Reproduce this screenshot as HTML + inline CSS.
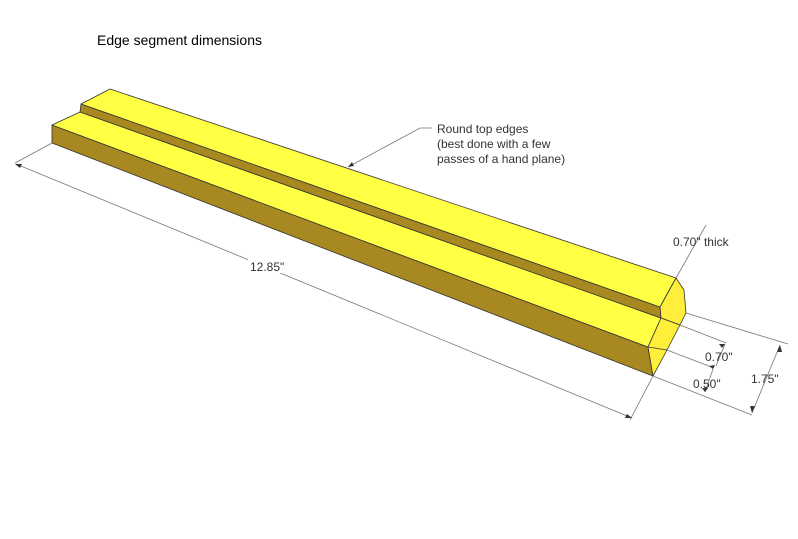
<!DOCTYPE html>
<html><head><style>
body{margin:0;background:#fff;width:798px;height:539px;overflow:hidden}
svg{display:block}
text{font-family:"Liberation Sans",sans-serif;font-size:12px;fill:#333}
</style></head><body>
<svg width="798" height="539" viewBox="0 0 798 539">
<text x="97" y="45" style="font-size:14px;fill:#000">Edge segment dimensions</text>
<g stroke="#333" stroke-width="0.8" stroke-linejoin="round">
<polygon points="52,125 648,347 653,376 52,143" fill="#a88820"/>
<polygon points="52,125 80,112 661,318 648,347" fill="#ffff44"/>
<polygon points="80,112 81,104 660,307 661,318" fill="#a88820"/>
<polygon points="81,104 110,89 676,278 660,307" fill="#ffff44"/>
<polygon points="660,307 676,278 684,290 686,313 680,325 661,318" fill="#ffee3a"/>
<polygon points="648,347 661,318 680,325 667,350 653,376" fill="#ffee3a"/>
<line x1="648" y1="347" x2="667" y2="350"/>
</g>
<g stroke="#777" stroke-width="0.8" fill="none">
<line x1="52" y1="143" x2="15" y2="163"/>
<line x1="653" y1="376" x2="630" y2="420"/>
<line x1="16" y1="164" x2="632" y2="418"/>
<polyline points="348,167 420,128 432,128"/>
<line x1="676" y1="278" x2="706" y2="225"/>
<line x1="686" y1="313" x2="788" y2="344"/>
<line x1="680" y1="325" x2="726" y2="343"/>
<line x1="667" y1="350" x2="714" y2="368"/>
<line x1="653" y1="376" x2="752" y2="415"/>
<line x1="780" y1="345" x2="752" y2="413"/>
<line x1="713" y1="369" x2="705" y2="392"/>
<line x1="725" y1="344" x2="716" y2="366"/>
</g>
<g fill="#333">
<polygon points="15,164 22,164 20,168"/>
<polygon points="632,418 625,418 627,414"/>
<polygon points="348,167 352,162 354,166"/>
<polygon points="780,345 777,352 782,352"/>
<polygon points="752,413 750,406 755,406"/>
<polygon points="725,344 719,344 722,348"/>
<polygon points="713,369 709,366 715,365"/>
<polygon points="705,392 702,388 708,388"/>
</g>
<rect x="248" y="259" width="36" height="14" fill="#fff"/>
<text x="250" y="271">12.85"</text>
<text x="437" y="133">Round top edges</text>
<text x="437" y="148">(best done with a few</text>
<text x="437" y="163">passes of a hand plane)</text>
<text x="673" y="246">0.70" thick</text>
<text x="705" y="361">0.70"</text>
<text x="693" y="388">0.50"</text>
<text x="751" y="383">1.75"</text>
</svg>
</body></html>
